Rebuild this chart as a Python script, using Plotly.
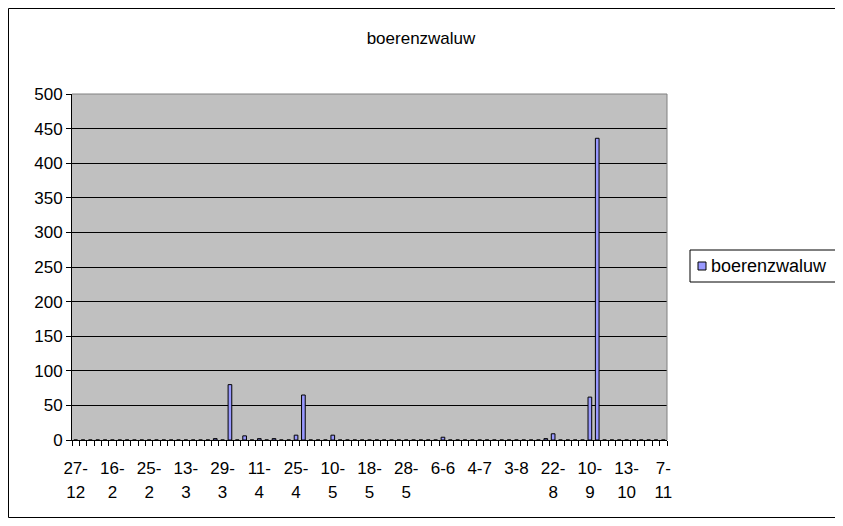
import plotly.graph_objects as go

# counts per week (index on the category axis)
n_categories = 81
obs_index = [19, 21, 23, 25, 27, 30, 31, 35, 50, 64, 65, 70, 71]
obs_count = [2, 80, 6, 2, 2, 7, 65, 7, 4, 2, 9, 62, 436]

# tick labels shown every 5th category (day, month on second line)
tick_day = ["27-", "16-", "25-", "13-", "29-", "11-", "25-", "10-", "18-", "28-",
            "6-6", "4-7", "3-8", "22-", "10-", "13-", "7-"]
tick_month = ["12", "2", "2", "3", "3", "4", "4", "5", "5", "5",
              "", "", "", "8", "9", "10", "11"]
series_name = "boerenzwaluw"

counts = [0] * n_categories
for i, c in zip(obs_index, obs_count):
    counts[i] = c
cats = list(range(n_categories))

fnt = "Liberation Sans, Arial, sans-serif"
bar_col = "#9999FF"

# figure size and plot area in figure pixels (page is offset by 8px body margin)
FW, FH = 835, 510
L, T, W, H = 64, 86, 595, 346


def px_x(p):
    return (p - L) / W


def px_y(p):
    return (T + H - p) / H


fig = go.Figure()
fig.add_trace(go.Bar(
    x=cats, y=counts, name=series_name, showlegend=False,
    marker=dict(color=bar_col, line=dict(color="black", width=1)),
))

# dummy traces to carry the boundary tick marks and second label line
fig.add_trace(go.Scatter(x=[0], y=[0], xaxis="x2", mode="markers",
                         marker=dict(opacity=0), showlegend=False, hoverinfo="skip"))
fig.add_trace(go.Scatter(x=[0], y=[0], xaxis="x3", mode="markers",
                         marker=dict(opacity=0), showlegend=False, hoverinfo="skip"))

shapes = [
    # outer chart border
    dict(type="rect", xref="paper", yref="paper",
         x0=px_x(0.5), x1=px_x(860), y0=px_y(509.5), y1=px_y(0.5),
         line=dict(color="black", width=1), fillcolor="rgba(0,0,0,0)", layer="below"),
    # plot area top / right edge in grey
    dict(type="line", xref="paper", yref="paper", x0=0, x1=1, y0=1, y1=1,
         line=dict(color="#808080", width=1), layer="above"),
    dict(type="line", xref="paper", yref="paper", x0=1, x1=1, y0=0, y1=1,
         line=dict(color="#808080", width=1), layer="above"),
    # legend box
    dict(type="rect", xref="paper", yref="paper",
         x0=px_x(682), x1=px_x(860), y0=px_y(274), y1=px_y(242),
         line=dict(color="black", width=1), fillcolor="white", layer="below"),
    # legend swatch
    dict(type="rect", xref="paper", yref="paper",
         x0=px_x(690), x1=px_x(698), y0=px_y(262), y1=px_y(254),
         line=dict(color="black", width=1), fillcolor=bar_col, layer="above"),
]

fig.update_layout(
    width=FW, height=FH,
    paper_bgcolor="white",
    plot_bgcolor="#C0C0C0",
    margin=dict(l=L, r=FW - L - W, t=T, b=FH - T - H),
    bargap=0.5,
    showlegend=False,
    font=dict(family=fnt, size=17, color="black"),
    title=dict(text="boerenzwaluw", x=px_x(413), xanchor="center",
               y=1 - 30 / FH, yanchor="middle",
               xref="paper", font=dict(size=17)),
    xaxis=dict(range=[-0.5, n_categories - 0.5], tickmode="array",
               tickvals=cats[::5], ticktext=tick_day, ticks="",
               ticklabelstandoff=13,
               showgrid=False, zeroline=False, showline=True,
               linecolor="black", linewidth=1, mirror=False,
               tickfont=dict(size=17)),
    xaxis2=dict(overlaying="x", range=[-0.5, n_categories - 0.5], side="bottom",
                tickmode="array", tickvals=[i - 0.5 for i in range(n_categories + 1)],
                ticks="outside", ticklen=5, tickcolor="black", showticklabels=False,
                showgrid=False, zeroline=False, anchor="y"),
    xaxis3=dict(overlaying="x", range=[-0.5, n_categories - 0.5], side="bottom",
                tickmode="array", tickvals=cats[::5], ticktext=tick_month, ticks="",
                ticklabelstandoff=40, showgrid=False, zeroline=False, anchor="y",
                tickfont=dict(size=17)),
    yaxis=dict(range=[0, 500], dtick=50, ticks="outside", ticklen=5, tickcolor="black",
               showgrid=True, gridcolor="black", gridwidth=1, zeroline=False,
               showline=True, linecolor="black", linewidth=1, mirror=False,
               tickfont=dict(size=17)),
    shapes=shapes,
    annotations=[dict(text=series_name, xref="paper", yref="paper",
                      x=px_x(701), y=px_y(258), xanchor="left", yanchor="middle",
                      showarrow=False, font=dict(size=18))],
)

fig.write_html("out.html")
